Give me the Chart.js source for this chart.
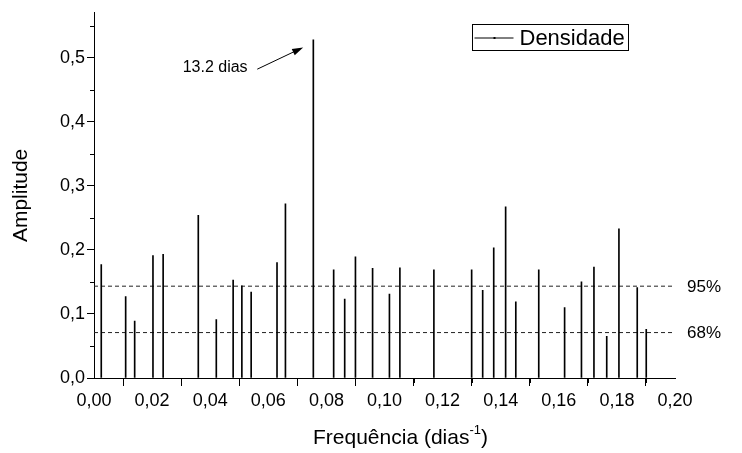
<!DOCTYPE html>
<html lang="pt">
<head>
    <meta charset="UTF-8">
    <title>Amplitude x Frequência</title>
    <script src="https://cdn.jsdelivr.net/npm/chart.js"></script>
    <style>
        html, body { margin: 0; padding: 0; background: #fff; }
        #wrap { width: 742px; height: 453px; }
    </style>
</head>
<body>
<div id="wrap"><canvas id="periodChart"></canvas></div>
<script>
    // frequencias (dias^-1) e amplitudes
    const freqs = [0.0025, 0.0109, 0.0140, 0.0203, 0.0238, 0.0359, 0.0421, 0.0479, 0.0509, 0.0541,
                   0.0630, 0.0659, 0.0755, 0.0825, 0.0863, 0.0900, 0.0959, 0.1017, 0.1053, 0.1170,
                   0.1300, 0.1338, 0.1376, 0.1417, 0.1452, 0.1531, 0.1620, 0.1678, 0.1721, 0.1765,
                   0.1807, 0.1870, 0.1901];
    const amps = [0.177, 0.127, 0.089, 0.191, 0.193, 0.254, 0.091, 0.153, 0.144, 0.134,
                  0.180, 0.272, 0.528, 0.169, 0.123, 0.189, 0.171, 0.131, 0.172, 0.169,
                  0.169, 0.137, 0.203, 0.267, 0.119, 0.169, 0.110, 0.150, 0.173, 0.065,
                  0.233, 0.141, 0.076];

    // niveis de significancia
    const levelNames = ['95%', '68%'];
    const levelValues = [0.1433, 0.0709];

    const xTicks = [0, 0.02, 0.04, 0.06, 0.08, 0.10, 0.12, 0.14, 0.16, 0.18, 0.20];
    const yTicks = [0, 0.1, 0.2, 0.3, 0.4, 0.5];
    const xMinor = [0.01, 0.03, 0.05, 0.07, 0.09, 0.11, 0.13, 0.15, 0.17, 0.19];
    const yMinor = [0.05, 0.15, 0.25, 0.35, 0.45, 0.55];

    // pico anotado
    const peakLabel = '13.2 dias';
    const peakText = { x: 0.0417, y: 0.484 };
    const peakArrow = { x0: 0.0562, y0: 0.482, x1: 0.0720, y1: 0.516 };

    const FONT = "'Liberation Sans', Arial, sans-serif";

    const stems = freqs.map((f, i) => ({ x: f, y: amps[i] }));

    const levelSets = levelValues.map((v, i) => ({
        type: 'line',
        label: levelNames[i],
        data: [{ x: 0, y: v }, { x: 0.2, y: v }],
        borderColor: '#222',
        borderWidth: 1,
        borderDash: [4, 3],
        pointRadius: 0,
        fill: false
    }));

    // ticks menores, rotulos, legenda, anotacao
    const extras = {
        id: 'extras',
        afterDraw(chart) {
            const ctx = chart.ctx;
            const xs = chart.scales.x, ys = chart.scales.y;
            const area = chart.chartArea;
            ctx.save();
            ctx.strokeStyle = '#000';
            ctx.lineWidth = 1;
            ctx.beginPath();
            xMinor.forEach(v => {
                const px = Math.round(xs.getPixelForValue(v)) + 0.5;
                ctx.moveTo(px, area.bottom);
                ctx.lineTo(px, area.bottom + 5);
            });
            yMinor.forEach(v => {
                const py = Math.round(ys.getPixelForValue(v)) + 0.5;
                ctx.moveTo(area.left, py);
                ctx.lineTo(area.left - 4, py);
            });
            ctx.stroke();

            // rotulos 95% / 68%
            ctx.fillStyle = '#000';
            ctx.font = '17px ' + FONT;
            ctx.textAlign = 'left';
            ctx.textBaseline = 'middle';
            levelValues.forEach((v, i) => {
                ctx.fillText(levelNames[i], area.right + 12, ys.getPixelForValue(v) + 1);
            });

            // anotacao do pico
            ctx.font = '16px ' + FONT;
            ctx.textAlign = 'center';
            ctx.fillText(peakLabel, xs.getPixelForValue(peakText.x), ys.getPixelForValue(peakText.y));
            const ax0 = xs.getPixelForValue(peakArrow.x0), ay0 = ys.getPixelForValue(peakArrow.y0);
            const ax1 = xs.getPixelForValue(peakArrow.x1), ay1 = ys.getPixelForValue(peakArrow.y1);
            const ang = Math.atan2(ay1 - ay0, ax1 - ax0);
            ctx.beginPath();
            ctx.moveTo(ax0, ay0);
            ctx.lineTo(ax1 - 8 * Math.cos(ang), ay1 - 8 * Math.sin(ang));
            ctx.stroke();
            ctx.beginPath();
            ctx.moveTo(ax1, ay1);
            ctx.lineTo(ax1 - 11 * Math.cos(ang) + 3.5 * Math.sin(ang), ay1 - 11 * Math.sin(ang) - 3.5 * Math.cos(ang));
            ctx.lineTo(ax1 - 11 * Math.cos(ang) - 3.5 * Math.sin(ang), ay1 - 11 * Math.sin(ang) + 3.5 * Math.cos(ang));
            ctx.closePath();
            ctx.fill();

            // legenda com moldura
            const lx = 472.5, ly = 24.5, lw = 156, lh = 26;
            ctx.strokeRect(lx, ly, lw, lh);
            ctx.beginPath();
            ctx.moveTo(lx + 2, ly + 13.5);
            ctx.lineTo(lx + 41, ly + 13.5);
            ctx.stroke();
            ctx.fillRect(lx + 21, ly + 12.5, 2, 2);
            ctx.font = '22px ' + FONT;
            ctx.textAlign = 'left';
            ctx.fillText(chart.data.datasets[0].label, lx + 47, ly + 14);

            // titulo do eixo x com expoente
            const base = 'Frequência (dias';
            ctx.font = '21px ' + FONT;
            ctx.textBaseline = 'alphabetic';
            const startX = area.left + 219, baseY = 444;
            ctx.fillText(base, startX, baseY);
            let cx = startX + ctx.measureText(base).width;
            ctx.font = '13px ' + FONT;
            ctx.fillText('-1', cx, baseY - 10);
            cx += ctx.measureText('-1').width;
            ctx.font = '21px ' + FONT;
            ctx.fillText(')', cx, baseY);
            ctx.restore();
        }
    };

    const ctx = document.getElementById('periodChart').getContext('2d');
    const periodChart = new Chart(ctx, {
        type: 'bar',
        data: {
            datasets: [{
                label: 'Densidade',
                data: stems,
                backgroundColor: '#000',
                borderWidth: 0,
                barThickness: 1
            }].concat(levelSets)
        },
        options: {
            responsive: true,
            maintainAspectRatio: false,
            animation: false,
            layout: { padding: { top: 11, right: 67, left: 0, bottom: 0 } },
            plugins: {
                legend: { display: false },
                tooltip: { enabled: false }
            },
            scales: {
                x: {
                    type: 'linear',
                    min: 0,
                    max: 0.2,
                    offset: false,
                    afterBuildTicks: s => { s.ticks = xTicks.map(v => ({ value: v })); },
                    afterFit: s => { s.height = 75; },
                    grid: { drawOnChartArea: false, drawTicks: true, tickLength: 8, color: '#000' },
                    border: { display: true, color: '#000', width: 1 },
                    ticks: {
                        color: '#000',
                        padding: 4,
                        maxRotation: 0,
                        font: { family: FONT, size: 18 },
                        callback: v => v.toFixed(2).replace('.', ',')
                    },
                    title: { display: false }
                },
                y: {
                    min: 0,
                    max: 0.57,
                    afterBuildTicks: s => { s.ticks = yTicks.map(v => ({ value: v })); },
                    afterFit: s => { s.width = 94; },
                    grid: { drawOnChartArea: false, drawTicks: true, tickLength: 7, color: '#000' },
                    border: { display: true, color: '#000', width: 1 },
                    ticks: {
                        color: '#000',
                        padding: 2,
                        font: { family: FONT, size: 18 },
                        callback: v => v.toFixed(1).replace('.', ',')
                    },
                    title: {
                        display: true,
                        text: 'Amplitude',
                        color: '#000',
                        font: { family: FONT, size: 21 },
                        padding: { top: 9, bottom: 0 }
                    }
                }
            }
        },
        plugins: [extras]
    });
</script>
</body>
</html>
